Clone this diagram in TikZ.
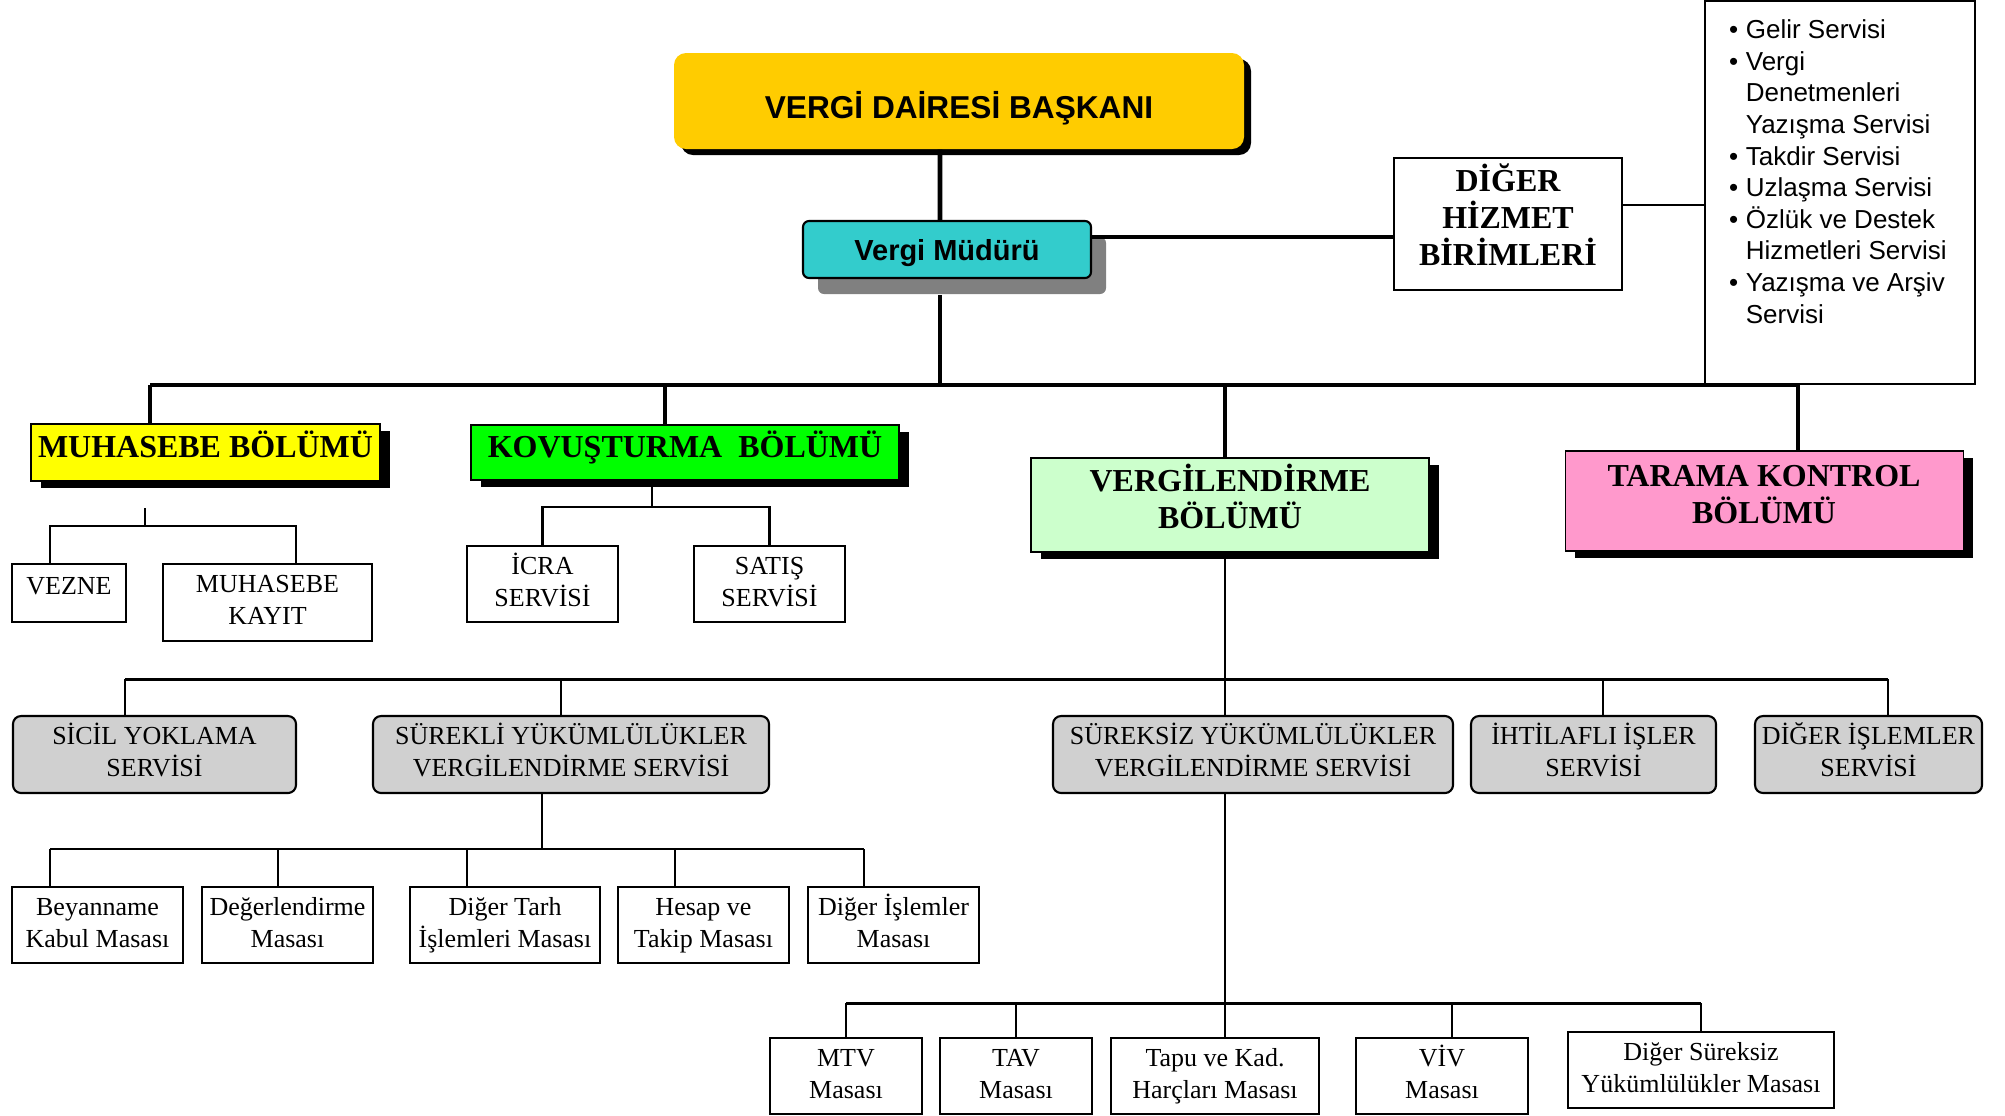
\documentclass[tikz,border=0pt]{standalone}
\usepackage{fontspec}
\setmainfont{Liberation Serif}
\newfontfamily\arialyazi{Liberation Sans}
\usetikzlibrary{shadows}

\definecolor{baskansari}{RGB}{255,204,0}
\definecolor{mudurmavi}{RGB}{51,204,204}
\definecolor{golgegri}{RGB}{128,128,128}
\definecolor{muhsari}{RGB}{255,255,0}
\definecolor{kovyesil}{RGB}{0,255,0}
\definecolor{vergiyesil}{RGB}{204,255,204}
\definecolor{taramapembe}{RGB}{255,153,204}
\definecolor{servisgri}{RGB}{208,208,208}

\tikzset{
  kalin/.style={line width=1.4pt},
  orta/.style={line width=0.85pt},
  ince/.style={line width=0.6pt},
  baskan/.style={fill=baskansari, rounded corners=1.2mm, inner sep=0pt,
    minimum width=57mm, minimum height=9.6mm, text height=3.4mm, text depth=0mm,
    font=\arialyazi\bfseries\fontsize{9}{10}\selectfont,
    drop shadow={shadow xshift=0.7mm, shadow yshift=-0.6mm, fill=black, opacity=1}},
  mudur/.style={draw, line width=0.6pt, fill=mudurmavi, rounded corners=0.6mm, inner sep=0pt,
    minimum width=28.8mm, minimum height=5.7mm, text height=2.1mm, text depth=0mm,
    font=\arialyazi\bfseries\fontsize{8.25}{9}\selectfont,
    drop shadow={shadow xshift=1.5mm, shadow yshift=-1.6mm, fill=golgegri, opacity=1}},
  birim/.style={draw, line width=0.6pt, fill=white, inner sep=0pt, align=center,
    text height=8.7mm, text depth=0.5mm,
    font=\bfseries\fontsize{9.1}{10.5}\selectfont},
  liste/.style={draw, line width=0.6pt, fill=white, inner sep=0pt,
    minimum width=27mm, minimum height=38.3mm},
  listemetin/.style={inner sep=0pt, anchor=north west, align=left,
    font=\arialyazi\fontsize{7.4}{9}\selectfont},
  bolum/.style={draw, line width=0.3pt, inner sep=0pt, align=center,
    text height=2.1mm, text depth=1.1mm,
    font=\bfseries\fontsize{9.1}{10.5}\selectfont,
    drop shadow={shadow xshift=1mm, shadow yshift=-0.7mm, fill=black, opacity=1}},
  kutu/.style={draw, line width=0.6pt, fill=white, inner sep=0pt, align=center,
    text height=4.9mm, text depth=0.5mm,
    font=\fontsize{7.4}{9}\selectfont, minimum height=7.6mm},
  servis/.style={kutu, fill=servisgri, rounded corners=0.8mm, minimum height=7.7mm},
}

\newcommand{\madde}{\textbullet\hspace{0.75mm}}
\newcommand{\devam}{\hphantom{\textbullet}\hspace{0.75mm}}

\begin{document}
\begin{tikzpicture}[x=0.1mm, y=-0.1mm]
\useasboundingbox (0,0) rectangle (2005,1115);

% ust kisim
\node[baskan] (baskan) at (959,101) {VERGİ DAİRESİ BAŞKANI};
\node[mudur] (mudur) at (947,249.5) {Vergi Müdürü};
\node[birim, minimum width=22.8mm, minimum height=13.2mm] (digerbirim) at (1508,224) {DİĞER\\HİZMET\\BİRİMLERİ};
\node[liste] (liste) at (1840,192.5) {};
\node[listemetin] (servisler) at (1728.5,19) {\madde Gelir Servisi\\
  \madde Vergi\\ \devam Denetmenleri\\ \devam Yazışma Servisi\\
  \madde Takdir Servisi\\ \madde Uzlaşma Servisi\\
  \madde Özlük ve Destek\\ \devam Hizmetleri Servisi\\
  \madde Yazışma ve Arşiv\\ \devam Servisi};

% bolumler
\node[bolum, fill=muhsari, minimum width=34.9mm, minimum height=5.7mm] (muhasebe) at (205.5,452.5) {MUHASEBE BÖLÜMÜ};
\node[bolum, fill=kovyesil, minimum width=42.8mm, minimum height=5.5mm] (kovusturma) at (685,452.5) {KOVUŞTURMA~~BÖLÜMÜ};
\node[bolum, fill=vergiyesil, minimum width=39.8mm, minimum height=9.4mm, text height=5.1mm, text depth=0.5mm] (vergilendirme) at (1230,505) {VERGİLENDİRME\\BÖLÜMÜ};
\node[bolum, fill=taramapembe, minimum width=39.8mm, minimum height=10mm, text height=4.9mm, text depth=0.5mm] (tarama) at (1764,501) {TARAMA KONTROL\\BÖLÜMÜ};

% muhasebe ve kovusturma birimleri
\node[kutu, minimum width=11.4mm, minimum height=5.8mm, text height=1.8mm, text depth=1.6mm] (vezne) at (69,593) {VEZNE};
\node[kutu, minimum width=20.9mm, minimum height=7.7mm] (kayit) at (267.5,602.5) {MUHASEBE\\KAYIT};
\node[kutu, minimum width=15.1mm] (icra) at (542.5,584) {İCRA\\SERVİSİ};
\node[kutu, minimum width=15.1mm] (satis) at (769.5,584) {SATIŞ\\SERVİSİ};

% servisler
\node[servis, minimum width=28.3mm] (sicil) at (154.5,754.5) {SİCİL YOKLAMA\\SERVİSİ};
\node[servis, minimum width=39.6mm] (surekli) at (571,754.5) {SÜREKLİ YÜKÜMLÜLÜKLER\\VERGİLENDİRME SERVİSİ};
\node[servis, minimum width=40mm] (sureksiz) at (1253,754.5) {SÜREKSİZ YÜKÜMLÜLÜKLER\\VERGİLENDİRME SERVİSİ};
\node[servis, minimum width=24.5mm] (ihtilafli) at (1593.5,754.5) {İHTİLAFLI İŞLER\\SERVİSİ};
\node[servis, minimum width=22.7mm] (digerislem) at (1868.5,754.5) {DİĞER İŞLEMLER\\SERVİSİ};

% surekli masalar
\node[kutu, minimum width=17.1mm] (beyanname) at (97.5,925) {Beyanname\\Kabul Masası};
\node[kutu, minimum width=17.1mm] (degerlendirme) at (287.5,925) {Değerlendirme\\Masası};
\node[kutu, minimum width=19mm] (tarh) at (505,925) {Diğer Tarh\\İşlemleri Masası};
\node[kutu, minimum width=17.1mm] (hesap) at (703.5,925) {Hesap ve\\Takip Masası};
\node[kutu, minimum width=17.1mm] (digermasa) at (893.5,925) {Diğer İşlemler\\Masası};

% sureksiz masalar
\node[kutu, minimum width=15.2mm] (mtv) at (846,1076) {MTV\\Masası};
\node[kutu, minimum width=15.2mm] (tav) at (1016,1076) {TAV\\Masası};
\node[kutu, minimum width=20.8mm] (tapu) at (1215,1076) {Tapu ve Kad.\\Harçları Masası};
\node[kutu, minimum width=17.2mm] (viv) at (1442,1076) {VİV\\Masası};
\node[kutu, minimum width=26.6mm] (digersureksiz) at (1701,1070) {Diğer Süreksiz\\Yükümlülükler Masası};

% ana baglantilar
\coordinate (anaL) at (150,385);
\coordinate (anaR) at (1798,385);
\draw[kalin] (anaL) -- (anaR);
\draw[kalin] ([xshift=-1.9mm]baskan.south) -- ([xshift=-0.7mm]mudur.north);
\draw[kalin] ([xshift=-0.7mm, yshift=-1.6mm]mudur.south) -- ([xshift=-0.7mm]mudur.south |- anaL);
\draw[kalin] ([yshift=1.25mm]mudur.east) -- ([yshift=1.25mm]mudur.east -| digerbirim.west);
\draw[ince] ([yshift=1.9mm]digerbirim.east) -- ([yshift=1.9mm]digerbirim.east -| liste.west);
\draw[kalin] (anaL) -- (anaL |- muhasebe.north);
\draw[kalin] ([xshift=-2mm]kovusturma.north) -- ([xshift=-2mm]kovusturma.north |- anaL);
\draw[kalin] ([xshift=-0.5mm]vergilendirme.north) -- ([xshift=-0.5mm]vergilendirme.north |- anaL);
\draw[kalin] (anaR) -- (anaR |- tarama.north);

% muhasebe alti
\coordinate (mbus) at (145,526);
\draw[ince] (mbus) -- ++(0,-18);
\draw[ince] ([xshift=-1.9mm]vezne.north) -- ([xshift=-1.9mm]vezne.north |- mbus)
  -- ([xshift=2.85mm]kayit.north |- mbus) -- ([xshift=2.85mm]kayit.north);

% kovusturma alti
\coordinate (kbus) at (652,507);
\draw[ince] (kbus) -- (kbus |- kovusturma.south);
\draw[ince] (icra.north) -- (icra.north |- kbus) -- (satis.north |- kbus) -- (satis.north);

% vergilendirme alti
\coordinate (ikiL) at (125,679);
\coordinate (ikiR) at (1888,679);
\draw[orta] (ikiL) -- (ikiR);
\draw[ince] ([xshift=-0.5mm]vergilendirme.south) -- ([xshift=-0.5mm]vergilendirme.south |- sureksiz.north);
\draw[ince] (ikiL) -- (ikiL |- sicil.north);
\draw[ince] ([xshift=-1mm]surekli.north) -- ([xshift=-1mm]surekli.north |- ikiL);
\draw[ince] ([xshift=0.95mm]ihtilafli.north) -- ([xshift=0.95mm]ihtilafli.north |- ikiL);
\draw[ince] (ikiR) -- (ikiR |- digerislem.north);

% surekli masalar baglantisi
\coordinate (masaL) at (50,849);
\coordinate (masaR) at (864,849);
\draw[ince] ([xshift=-2.9mm]surekli.south) -- ([xshift=-2.9mm]surekli.south |- masaL);
\draw[ince] (masaL) -- (masaR);
\draw[ince] (masaL) -- (masaL |- beyanname.north);
\draw[ince] ([xshift=-0.95mm]degerlendirme.north) -- ([xshift=-0.95mm]degerlendirme.north |- masaL);
\draw[ince] ([xshift=-3.8mm]tarh.north) -- ([xshift=-3.8mm]tarh.north |- masaL);
\draw[ince] ([xshift=-2.85mm]hesap.north) -- ([xshift=-2.85mm]hesap.north |- masaL);
\draw[ince] (masaR) -- (masaR |- digermasa.north);

% sureksiz masalar baglantisi
\coordinate (ucL) at (846,1003);
\coordinate (ucR) at (1701,1003);
\draw[ince] ([xshift=-2.8mm]sureksiz.south) -- ([xshift=-2.8mm]sureksiz.south |- tapu.north);
\draw[orta] (ucL) -- (ucR);
\draw[ince] (ucL) -- (ucL |- mtv.north);
\draw[ince] (tav.north) -- (tav.north |- ucL);
\draw[ince] ([xshift=1mm]viv.north) -- ([xshift=1mm]viv.north |- ucL);
\draw[ince] (ucR) -- (ucR |- digersureksiz.north);
\end{tikzpicture}
\end{document}
